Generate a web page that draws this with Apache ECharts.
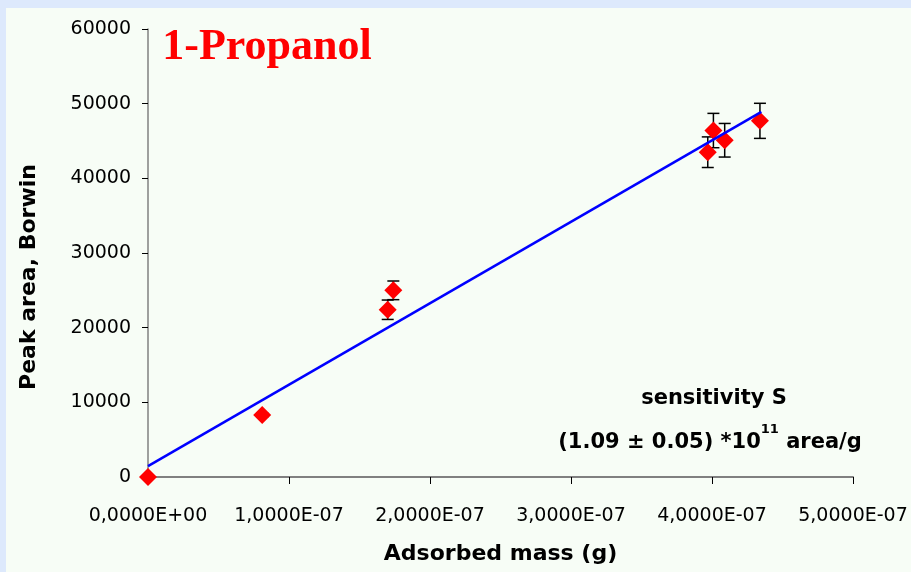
<!DOCTYPE html>
<html>
<head>
<meta charset="utf-8">
<title>1-Propanol sensitivity</title>
<script src="https://cdn.jsdelivr.net/npm/echarts@6/dist/echarts.min.js"></script>
<style>
  html, body { margin: 0; padding: 0; background: #DDE9FC; }
  #chart { width: 911px; height: 572px; }
</style>
</head>
<body>
<div id="chart"></div>
<script>
// Adsorbed mass (g) of each measurement
const mass = [0, 8.1e-8, 1.70e-7, 1.74e-7, 3.97e-7, 4.01e-7, 4.09e-7, 4.34e-7];
// Peak area (Borwin units)
const area = [0, 8300, 22400, 25000, 43500, 46400, 45100, 47700];
// Half-height of the error bar for each measurement
const areaErr = [0, 300, 1300, 1250, 2050, 2300, 2250, 2350];
// End points of the linear fit
const fitMass = [0, 4.35e-7];
const fitArea = [1450, 48900];
// Axis ranges
const xTicks = { min: 0, max: 5e-7, interval: 1e-7 };
const yTicks = { min: 0, max: 60000, interval: 10000 };

const SANS = '"DejaVu Sans", "Liberation Sans", Arial, sans-serif';

function sciLabel(v) {
  const s = Number(v).toExponential(4);          // e.g. "1.0000e-7"
  const [mant, exp] = s.split('e');
  const sign = exp[0] === '-' ? '-' : '+';
  const digits = exp.replace(/[+-]/, '').padStart(2, '0');
  return mant.replace('.', ',') + 'E' + sign + digits;
}

const points = mass.map((m, i) => [m, area[i]]);
const errData = mass.map((m, i) => [m, area[i] - areaErr[i], area[i] + areaErr[i]]);
const fitData = fitMass.map((m, i) => [m, fitArea[i]]);

const chart = echarts.init(document.getElementById('chart'), null, { renderer: 'canvas' });

chart.setOption({
  backgroundColor: 'transparent',
  animation: false,
  grid: { left: 148, top: 29, right: 58, bottom: 95, containLabel: false },
  xAxis: {
    type: 'value',
    min: xTicks.min, max: xTicks.max, interval: xTicks.interval,
    splitLine: { show: false },
    axisLine: { lineStyle: { color: '#808080', width: 2 } },
    axisTick: { show: true, inside: false, length: 7, lineStyle: { color: '#000', width: 1 } },
    axisLabel: {
      margin: 30, color: '#000', fontSize: 19, fontFamily: SANS,
      formatter: sciLabel
    },
    name: 'Adsorbed mass (g)',
    nameLocation: 'middle',
    nameGap: 66,
    nameTextStyle: { color: '#000', fontSize: 22, fontWeight: 'bold', fontFamily: SANS }
  },
  yAxis: {
    type: 'value',
    min: yTicks.min, max: yTicks.max, interval: yTicks.interval,
    splitLine: { show: false },
    axisLine: { show: true, lineStyle: { color: '#808080', width: 1.5 } },
    axisTick: { show: true, inside: false, length: 6, lineStyle: { color: '#000', width: 1 } },
    axisLabel: {
      margin: 17, color: '#000', fontSize: 19, fontFamily: SANS,
      formatter: function (v) { return String(Math.round(v)); }
    }
  },
  graphic: [
    {
      type: 'rect', z: -100, silent: true,
      shape: { x: 6, y: 8, width: 905, height: 564 },
      style: { fill: '#F7FDF6' }
    },
    {
      type: 'text', x: 267, y: 48, z: 10,
      style: {
        text: '1-Propanol', fill: '#FF0000',
        font: 'bold 44px "Liberation Serif", "Times New Roman", serif',
        align: 'center', verticalAlign: 'middle'
      }
    },
    {
      type: 'text', x: 29, y: 277, rotation: Math.PI / 2, z: 10,
      style: {
        text: 'Peak area, Borwin', fill: '#000',
        font: 'bold 22px ' + SANS,
        align: 'center', verticalAlign: 'middle'
      }
    },
    {
      type: 'text', x: 714, y: 399, z: 10,
      style: {
        text: 'sensitivity S', fill: '#000',
        font: 'bold 21px ' + SANS,
        align: 'center', verticalAlign: 'middle'
      }
    },
    {
      type: 'text', x: 710, y: 438, z: 10,
      style: {
        text: '{a|(1.09 ± 0.05) *10}{s|11}{a| area/g}',
        align: 'center', verticalAlign: 'middle',
        rich: {
          a: { fill: '#000', fontSize: 21, fontWeight: 'bold', fontFamily: SANS, lineHeight: 30, verticalAlign: 'bottom' },
          s: { fill: '#000', fontSize: 13, fontWeight: 'bold', fontFamily: SANS, lineHeight: 30, verticalAlign: 'top' }
        }
      }
    }
  ],
  series: [
    {
      name: 'error',
      type: 'custom',
      z: 2,
      data: errData,
      renderItem: function (params, api) {
        const x = api.value(0);
        const lo = api.coord([x, api.value(1)]);
        const hi = api.coord([x, api.value(2)]);
        const cap = 6;
        const style = { stroke: '#000', lineWidth: 1.5, fill: null };
        return {
          type: 'group',
          children: [
            { type: 'line', shape: { x1: lo[0], y1: lo[1], x2: hi[0], y2: hi[1] }, style },
            { type: 'line', shape: { x1: hi[0] - cap, y1: hi[1], x2: hi[0] + cap, y2: hi[1] }, style },
            { type: 'line', shape: { x1: lo[0] - cap, y1: lo[1], x2: lo[0] + cap, y2: lo[1] }, style }
          ]
        };
      }
    },
    {
      name: 'Peak area',
      type: 'scatter',
      z: 3,
      data: points,
      symbol: 'diamond',
      symbolSize: 18,
      itemStyle: { color: '#FF0000', opacity: 1 }
    },
    {
      name: 'Linear fit',
      type: 'line',
      z: 4,
      data: fitData,
      showSymbol: false,
      symbol: 'none',
      lineStyle: { color: '#0000FF', width: 2.5 }
    }
  ]
});
</script>
</body>
</html>
